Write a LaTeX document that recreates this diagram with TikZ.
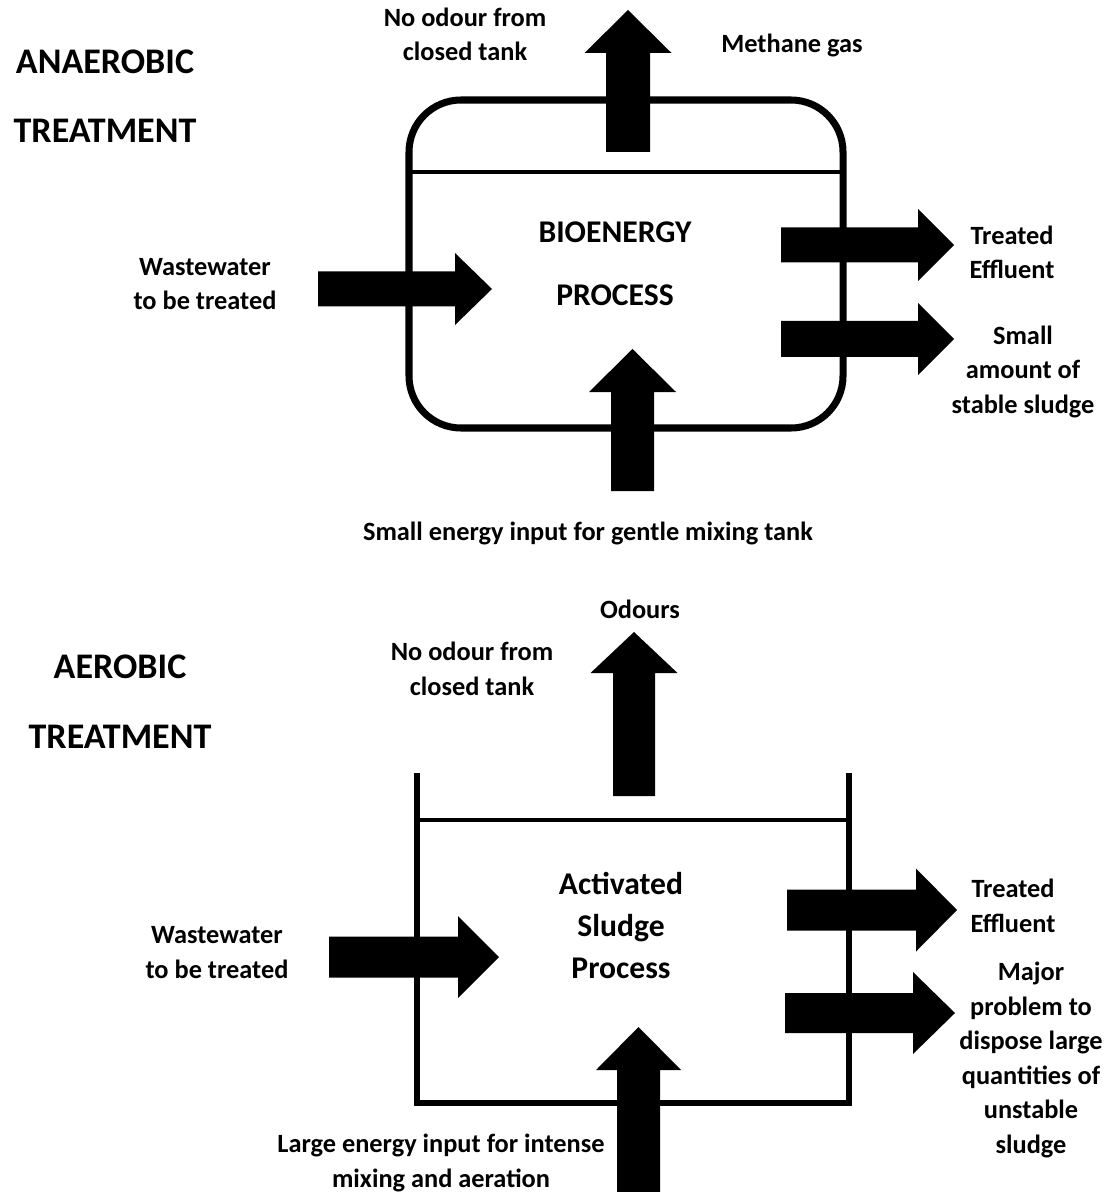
\documentclass[tikz,border=0pt]{standalone}
\usepackage{fontspec}
\setmainfont{Carlito}

\begin{document}
\begin{tikzpicture}[x=0.02cm,y=-0.02cm,
  lbl/.style={align=center,anchor=base,inner sep=0pt,font=\bfseries\fontsize{15}{19.6}\selectfont},
  head/.style={align=center,anchor=base,inner sep=0pt,font=\bfseries\fontsize{20.5}{39.8}\selectfont},
  proc/.style={align=center,anchor=base,inner sep=0pt,font=\bfseries\fontsize{18}{23.9}\selectfont}]
  \useasboundingbox (0,0) rectangle (1108,1192);

  % anaerobic tank (closed)
  \draw[line width=4pt,rounded corners=1.04cm] (409,100) rectangle (843,428);
  \draw[line width=2.2pt] (409,172) -- (843,172);
  % aerobic tank (open)
  \draw[line width=3.1pt] (417,773) -- (417,1103) -- (849,1103) -- (849,773);
  \draw[line width=2pt] (417,820) -- (849,820);

  % block arrows pointing right: tail x / head x / tip x / mid y / half shaft / half head
  \foreach \xa/\xb/\xc/\ym/\sh/\hh in {318/455/492/289/17.5/36, 781/918/954/245/17.5/36,
      781/918/954/339/18/36, 329/458/499/957/20.5/41, 787/916/957/910/20.5/41.5, 785/913/955/1013/20/41}
    \fill (\xa,\ym-\sh) -- (\xb,\ym-\sh) -- (\xb,\ym-\hh) -- (\xc,\ym)
      -- (\xb,\ym+\hh) -- (\xb,\ym+\sh) -- (\xa,\ym+\sh) -- cycle;
  % block arrows pointing up: mid x / tail y / head y / tip y / half shaft / half head
  \foreach \xm/\ya/\yb/\yc/\sh/\hh in {628/152/53/10/22/43.5, 632.5/491/392/349/21.5/43.5,
      634/796/673/632/21/43.5, 638.5/1200/1070/1027/21.5/42.5}
    \fill (\xm-\sh,\ya) -- (\xm-\sh,\yb) -- (\xm-\hh,\yb) -- (\xm,\yc)
      -- (\xm+\hh,\yb) -- (\xm+\sh,\yb) -- (\xm+\sh,\ya) -- cycle;

  % anaerobic labels
  \node[head] (anaer) at (105,143) {ANAEROBIC\\TREATMENT};
  \node[lbl] (odourA) at (465,61) {No odour from\\closed tank};
  \node[lbl] (methane) at (792,53) {Methane gas};
  \node[proc,font=\bfseries\fontsize{18}{35.9}\selectfont] (bioproc) at (615,306) {BIOENERGY\\PROCESS};
  \node[lbl] (wasteA) at (205,310) {Wastewater\\to be treated};
  \node[lbl] (effA) at (1012,279) {Treated\\Effluent};
  \node[lbl] (sludgeA) at (1023,413) {Small\\amount of\\stable sludge};
  \node[lbl] (energyA) at (588,540) {Small energy input for gentle mixing tank};

  % aerobic labels
  \node[head] (aer) at (120,748) {AEROBIC\\TREATMENT};
  \node[lbl] (odours) at (640,618) {Odours};
  \node[lbl] (odourB) at (472,695) {No odour from\\closed tank};
  \node[proc] (asproc) at (621,978) {Activated\\Sludge\\Process};
  \node[lbl] (wasteB) at (217,978) {Wastewater\\to be treated};
  \node[lbl] (effB) at (1013,932) {Treated\\Effluent};
  \node[lbl] (sludgeB) at (1031,1153) {Major\\problem to\\dispose large\\quantities of\\unstable\\sludge};
  \node[lbl] (energyB) at (441,1187) {Large energy input for intense\\mixing and aeration};
\end{tikzpicture}
\end{document}
